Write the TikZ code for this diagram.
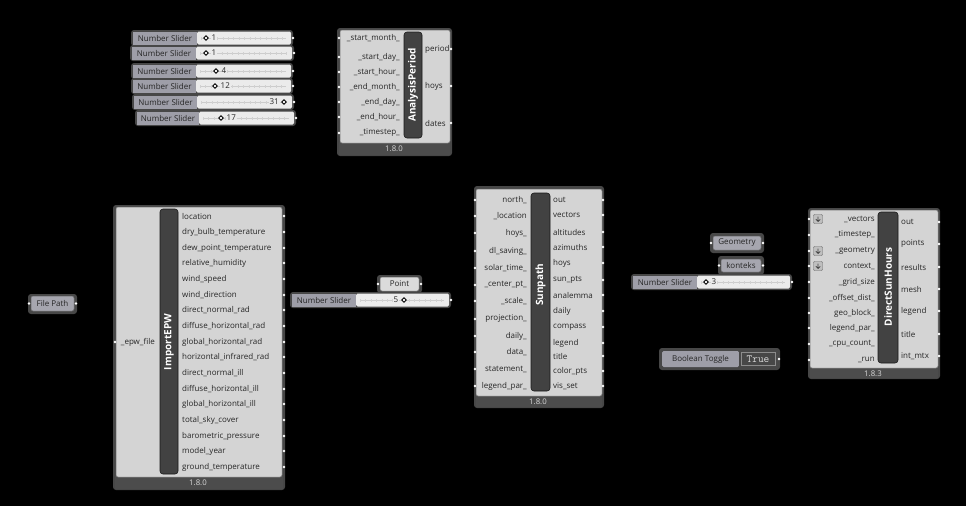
\documentclass[tikz,border=0pt]{standalone}
\usepackage{fontspec}
\setmainfont{Open Sans}
\begin{document}
\begin{tikzpicture}[x=1pt,y=-1pt,
  frame/.style={fill=black!72, rounded corners=3pt},
  body/.style={fill=black!17, draw=black!55, line width=0.5pt, rounded corners=2pt},
  bar/.style={fill=black!74, draw=black!90, line width=0.6pt, rounded corners=3pt},
  verbar/.style={fill=black!70},
  lbl/.style={font=\fontsize{8}{9.5}\selectfont, inner sep=0pt, text=black!85},
  inl/.style={lbl, anchor=east},
  outl/.style={lbl, anchor=west},
  valw/.style={lbl, anchor=west, fill=black!8, inner xsep=1pt, inner ysep=0.5pt},
  vale/.style={lbl, anchor=east, fill=black!8, inner xsep=1pt, inner ysep=0.5pt},
  ttl/.style={font=\bfseries\fontsize{10}{11}\selectfont, text=white, rotate=90, inner sep=0pt},
  ver/.style={font=\fontsize{7.8}{9}\selectfont, text=white!85!black, inner sep=0pt},
  port/.style={circle, fill=white, inner sep=0pt, minimum size=2.6pt},
  slab/.style={fill=blue!10!black!38!white},
  sval/.style={fill=black!8},
  dia/.style={draw=black, line width=0.9pt, fill=white, rotate=45, minimum size=3.2pt, inner sep=0pt},
  ticks/.style={black!18, dash pattern=on 0.4pt off 5pt, line width=3pt},
  tline/.style={black!20, line width=0.4pt},
  param/.style={fill=blue!10!black!35!white, draw=black!60, rounded corners=2pt, line width=0.5pt},
  icon/.style={draw=black!60, fill=black!25, rounded corners=1pt, minimum size=9pt, inner sep=0pt}
]
\useasboundingbox[fill=black] (0,0) rectangle (966,506);

% ---------- sliders macro ----------
% #1 name, #2 x1, #3 xl, #4 x2, #5 y
\newcommand\ghslider[5]{%
  \fill[frame] (#2-2,#5-8) rectangle (#4+2,#5+8);
  \fill[slab] (#2,#5-6.5) rectangle (#3,#5+6.5);
  \fill[sval, rounded corners=1.5pt] (#3,#5-6.5) rectangle (#4,#5+6.5);
  \draw[tline] (#3+4,#5) -- (#4-5,#5);
  \draw[ticks] (#3+4,#5) -- (#4-5,#5);
  \node[lbl] (#1) at ({(#2+#3)/2},#5) {Number Slider};
  \node[port] (#1o) at (#4+2,#5) {};
}

\ghslider{s1}{133}{197}{291}{38}
\node[valw] (s1v) at (210.5,38) {1}; \node[dia] (s1d) at (206,38) {};
\ghslider{s2}{132}{196}{292}{53}
\node[valw] (s2v) at (210.5,53) {1}; \node[dia] (s2d) at (206,53) {};
\ghslider{s3}{133}{196}{291}{71}
\node[valw] (s3v) at (220.5,71) {4}; \node[dia] (s3d) at (216,71) {};
\ghslider{s4}{133}{196}{291}{86}
\node[valw] (s4v) at (219.5,86) {12}; \node[dia] (s4d) at (215,86) {};
\ghslider{s5}{134}{197}{292}{102}
\node[vale] (s5v) at (280,102) {31}; \node[dia] (s5d) at (284,102) {};
\ghslider{s6}{137}{199}{294}{118}
\node[valw] (s6v) at (225.5,118) {17}; \node[dia] (s6d) at (221,118) {};

% ---------- AnalysisPeriod ----------
\fill[frame] (337,28) rectangle (452,156);
\fill[verbar] (339,142) rectangle (450,155);
\draw[body] (340,30) rectangle (450,143);
\draw[bar] (404,32) rectangle (422,138);
\node[ttl] (apT) at (413,85) {AnalysisPeriod};
\node[ver] (apV) at (394,149) {1.8.0};
\foreach \n/\t/\y in {ap1/\_start\_month\_/38, ap2/\_start\_day\_/57, ap3/\_start\_hour\_/72,
  ap4/\_end\_month\_/87, ap5/\_end\_day\_/102, ap6/\_end\_hour\_/117, ap7/\_timestep\_/133}{
  \node[inl] (\n) at (400,\y) {\t};
  \node[port] (\n p) at (339,\y) {};
}
\foreach \n/\t/\y in {apo1/period/49, apo2/hoys/86, apo3/dates/123}{
  \node[outl] (\n) at (425,\y) {\t};
  \node[port] (\n p) at (451,\y) {};
}

% ---------- ImportEPW ----------
\fill[frame] (113,205) rectangle (285,490);
\fill[verbar] (115,476) rectangle (283,489);
\draw[body] (116,207) rectangle (282,477);
\draw[bar] (160,209) rectangle (178,474);
\node[ttl] (epT) at (169,342) {ImportEPW};
\node[ver] (epV) at (198,483) {1.8.0};
\node[inl] (epI) at (155,342) {\_epw\_file};
\node[port] (epIp) at (115,342) {};
\foreach \n/\t/\y in {
  e1/location/216, e2/dry\_bulb\_temperature/232, e3/dew\_point\_temperature/248,
  e4/relative\_humidity/263, e5/wind\_speed/279, e6/wind\_direction/295,
  e7/direct\_normal\_rad/310, e8/diffuse\_horizontal\_rad/326, e9/global\_horizontal\_rad/342,
  e10/horizontal\_infrared\_rad/357, e11/direct\_normal\_ill/373, e12/diffuse\_horizontal\_ill/389,
  e13/global\_horizontal\_ill/404, e14/total\_sky\_cover/420, e15/barometric\_pressure/436,
  e16/model\_year/451, e17/ground\_temperature/467}{
  \node[outl] (\n) at (182,\y) {\t};
  \node[port] (\n p) at (284,\y) {};
}

% ---------- File Path ----------
\fill[frame] (28,294) rectangle (77,314);
\draw[param] (31,296) rectangle (74,311);
\node[lbl] (fp) at (52.5,303.5) {File Path};
\node[port] (fpi) at (29,303.5) {};
\node[port] (fpo) at (76,303.5) {};

% ---------- Point ----------
\fill[frame] (377,275) rectangle (422,293);
\draw[param, fill=black!14] (380,277) rectangle (419,291);
\node[lbl] (pt) at (399.5,284) {Point};
\node[port] (pti) at (378,284) {};
\node[port] (pto) at (421,284) {};

% ---------- middle slider ----------
\ghslider{sm}{292}{356}{449}{300}
\node[vale] (smv) at (399.5,300) {5}; \node[dia] (smd) at (404,300) {};

% ---------- Sunpath ----------
\fill[frame] (474,186) rectangle (604,408);
\fill[verbar] (476,395) rectangle (602,407);
\draw[body] (476,189) rectangle (602,396);
\draw[bar] (531,193) rectangle (550,391);
\node[ttl] (spT) at (540.5,285) {Sunpath};
\node[ver] (spV) at (538,402) {1.8.0};
\foreach \n/\t/\y in {
  si1/north\_/200, si2/\_location/216, si3/hoys\_/233, si4/dl\_saving\_/251,
  si5/solar\_time\_/268, si6/\_center\_pt\_/285, si7/\_scale\_/301, si8/projection\_/319,
  si9/daily\_/336, si10/data\_/352, si11/statement\_/369, si12/legend\_par\_/386}{
  \node[inl] (\n) at (527,\y) {\t};
  \node[port] (\n p) at (475,\y) {};
}
\foreach \n/\t/\y in {
  so1/out/200, so2/vectors/215, so3/altitudes/232, so4/azimuths/247, so5/hoys/263,
  so6/sun\_pts/280, so7/analemma/295, so8/daily/311, so9/compass/327, so10/legend/343,
  so11/title/356, so12/color\_pts/371, so13/vis\_set/386}{
  \node[outl] (\n) at (553,\y) {\t};
  \node[port] (\n p) at (603,\y) {};
}

% ---------- Geometry / konteks ----------
\fill[frame] (710,233) rectangle (764,253);
\draw[param] (713,236) rectangle (761,250);
\node[lbl] (geo) at (737,243) {Geometry};
\node[port] (geoi) at (711,243) {};
\node[port] (geoo) at (763,243) {};
\fill[frame] (718,256) rectangle (764,275);
\draw[param] (721,259) rectangle (761,272);
\node[lbl] (kon) at (741,265.5) {konteks};
\node[port] (koni) at (719,265.5) {};
\node[port] (kono) at (763,265.5) {};

% ---------- right slider ----------
\ghslider{sr}{633}{697}{790}{282}
\node[valw] (srv) at (710.5,282) {3}; \node[dia] (srd) at (706,282) {};

% ---------- Boolean Toggle ----------
\fill[frame] (659,348) rectangle (780,370);
\fill[slab, rounded corners=1.5pt] (662,351) rectangle (739,367);
\fill[black!72, rounded corners=1pt] (739,351) rectangle (777,367);
\draw[black!45, line width=0.5pt] (741,352.5) rectangle (775,365.5);
\node[lbl] (bt) at (700.5,359) {Boolean Toggle};
\node[font=\ttfamily\fontsize{11}{12}\selectfont, text=black!15, inner sep=0pt] (btv) at (758,359) {True};
\node[port] (bto) at (779,359) {};

% ---------- DirectSunHours ----------
\fill[frame] (808,208) rectangle (940,379);
\fill[verbar] (810,367) rectangle (938,378);
\draw[body] (810,210) rectangle (938,368);
\draw[bar] (878,212) rectangle (898,363);
\node[ttl] (dsT) at (888,287) {DirectSunHours};
\node[ver] (dsV) at (873,373.5) {1.8.3};
\foreach \n/\t/\y in {
  di1/\_vectors/219, di2/\_timestep\_/235, di3/\_geometry/251, di4/context\_/266,
  di5/\_grid\_size/282, di6/\_offset\_dist\_/298, di7/geo\_block\_/313, di8/legend\_par\_/328,
  di9/\_cpu\_count\_/344, di10/\_run/360}{
  \node[inl] (\n) at (875,\y) {\t};
  \node[port] (\n p) at (809,\y) {};
}
\foreach \n/\y in {ic1/219, ic3/251, ic4/266}{
  \node[icon] (\n) at (818,\y) {};
  \draw[black!75, line width=0.7pt] ([yshift=2.5pt]\n.center) -- ([yshift=-2.5pt]\n.center)
    ([xshift=-2.2pt,yshift=-0.3pt]\n.center) -- ([yshift=-2.5pt]\n.center) -- ([xshift=2.2pt,yshift=-0.3pt]\n.center);
}
\foreach \n/\t/\y in {
  do1/out/222, do2/points/244, do3/results/267, do4/mesh/289, do5/legend/311,
  do6/title/334, do7/int\_mtx/356}{
  \node[outl] (\n) at (901,\y) {\t};
  \node[port] (\n p) at (939,\y) {};
}
\end{tikzpicture}
\end{document}
